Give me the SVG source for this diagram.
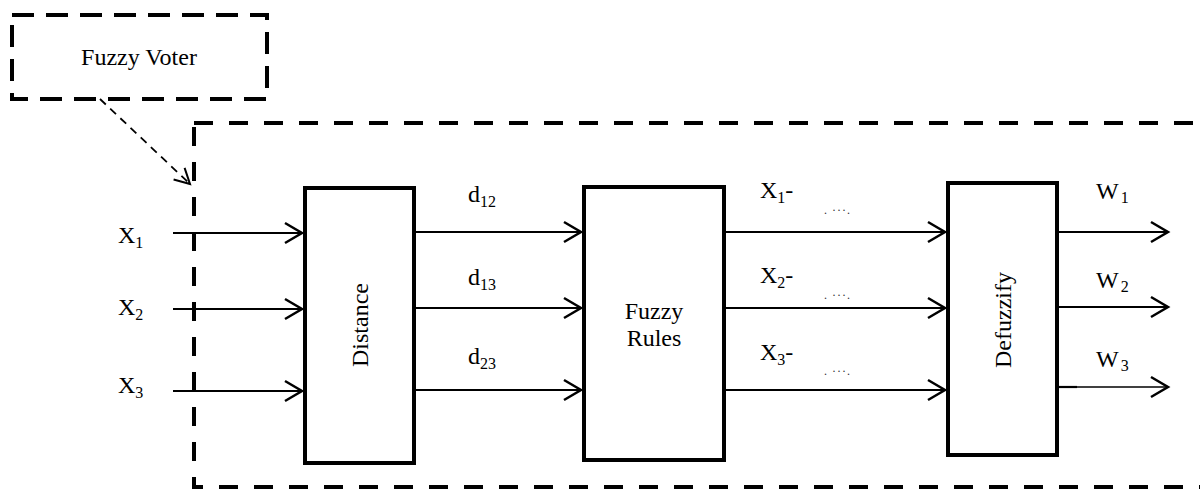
<svg xmlns="http://www.w3.org/2000/svg" width="1200" height="489" viewBox="0 0 1200 489">
<style>
  text { font-family: 'Liberation Serif', 'Times New Roman', Times, 'DejaVu Serif', serif; fill: #000; }
  .lbl { font-size: 24px; }
  .sub { font-size: 16px; }
  .box { fill: #fff; stroke: #000; stroke-width: 4; }
  .dash-box { fill: none; stroke: #000; stroke-width: 4; stroke-dasharray: 19 16; }
  .conn { stroke: #000; stroke-width: 2.2; fill: none; marker-end: url(#arr); }
  .dots { font-size: 12px; fill: #333; letter-spacing: 1px; }
</style>
<defs>
  <marker id="arr" markerUnits="userSpaceOnUse" markerWidth="30" markerHeight="30" viewBox="-22 -15 30 30" refX="0" refY="0" orient="auto">
    <path d="M-17,-10 L0,0 L-17,10" fill="none" stroke="#000" stroke-width="2.5"/>
  </marker>
  <marker id="arrs" markerUnits="userSpaceOnUse" markerWidth="24" markerHeight="24" viewBox="-18 -12 24 24" refX="0" refY="0" orient="auto">
    <path d="M-15,-8 L0,0 L-15,8" fill="none" stroke="#000" stroke-width="2"/>
  </marker>
</defs>
<rect width="1200" height="489" fill="#fff"/>

<g id="fuzzy-voter-label">
  <rect x="12" y="15" width="255" height="84" fill="none" stroke="#000" stroke-width="4" stroke-dasharray="22 12"/>
  <text class="lbl" font-family="Liberation Serif, serif" x="139" y="65" text-anchor="middle">Fuzzy Voter</text>
</g>

<g id="fuzzy-voter-boundary">
  <rect class="dash-box" x="194" y="123" width="1100" height="364"/>
</g>

<g id="distance">
  <rect class="box" x="305" y="188" width="109" height="275"/>
  <text class="lbl" font-family="Liberation Serif, serif" transform="translate(368,325) rotate(-90)" text-anchor="middle">Distance</text>
</g>

<g id="fuzzy-rules">
  <rect class="box" x="584" y="187" width="140" height="273"/>
  <text class="lbl" font-family="Liberation Serif, serif" x="654" y="319" text-anchor="middle">Fuzzy</text>
  <text class="lbl" font-family="Liberation Serif, serif" x="654" y="346" text-anchor="middle">Rules</text>
</g>

<g id="defuzzify">
  <rect class="box" x="948" y="183" width="109" height="272"/>
  <text class="lbl" font-family="Liberation Serif, serif" transform="translate(1011,320) rotate(-90)" text-anchor="middle">Defuzzify</text>
</g>

<g id="connectors">
  <line x1="100" y1="99" x2="190" y2="184" stroke="#000" stroke-width="1.8" stroke-dasharray="8 6" marker-end="url(#arrs)"/>
  <line class="conn" x1="173" y1="233" x2="302" y2="233"/>
  <line class="conn" x1="173" y1="309" x2="302" y2="309"/>
  <line class="conn" x1="173" y1="391" x2="302" y2="391"/>
  <line class="conn" x1="416" y1="232" x2="581" y2="232"/>
  <line class="conn" x1="416" y1="308" x2="581" y2="308"/>
  <line class="conn" x1="416" y1="390" x2="581" y2="390"/>
  <line class="conn" x1="726" y1="232" x2="945" y2="232"/>
  <line class="conn" x1="726" y1="308" x2="945" y2="308"/>
  <line class="conn" x1="726" y1="390" x2="945" y2="390"/>
  <line class="conn" x1="1059" y1="232" x2="1168" y2="232"/>
  <line class="conn" x1="1059" y1="307" x2="1168" y2="307"/>
  <line x1="1059" y1="387" x2="1077" y2="387" stroke="#000" stroke-width="2.2"/>
  <line x1="1077" y1="387" x2="1168" y2="387" stroke="#000" stroke-width="1.5" marker-end="url(#arr)"/>
</g>

<g id="labels" font-family="Liberation Serif, serif">
  <text class="lbl" x="118" y="243">X<tspan class="sub" dy="5">1</tspan></text>
  <text class="lbl" x="118" y="315">X<tspan class="sub" dy="5">2</tspan></text>
  <text class="lbl" x="118" y="393">X<tspan class="sub" dy="5">3</tspan></text>
  <text class="lbl" x="468" y="202">d<tspan class="sub" dy="5">12</tspan></text>
  <text class="lbl" x="468" y="285">d<tspan class="sub" dy="5">13</tspan></text>
  <text class="lbl" x="468" y="364">d<tspan class="sub" dy="5">23</tspan></text>
  <text class="lbl" x="760" y="198">X<tspan class="sub" dy="5">1</tspan><tspan dy="-5">-</tspan></text>
  <text class="lbl" x="760" y="283">X<tspan class="sub" dy="5">2</tspan><tspan dy="-5">-</tspan></text>
  <text class="lbl" x="760" y="360">X<tspan class="sub" dy="5">3</tspan><tspan dy="-5">-</tspan></text>
  <text class="dots" x="824" y="214">. ···.</text>
  <text class="dots" x="824" y="299">. ···.</text>
  <text class="dots" x="824" y="375">. ···.</text>
  <text class="lbl" x="1096" y="199">W<tspan class="sub" dx="2" dy="4">1</tspan></text>
  <text class="lbl" x="1096" y="288">W<tspan class="sub" dx="2" dy="4">2</tspan></text>
  <text class="lbl" x="1096" y="367">W<tspan class="sub" dx="2" dy="4">3</tspan></text>
</g>
</svg>
